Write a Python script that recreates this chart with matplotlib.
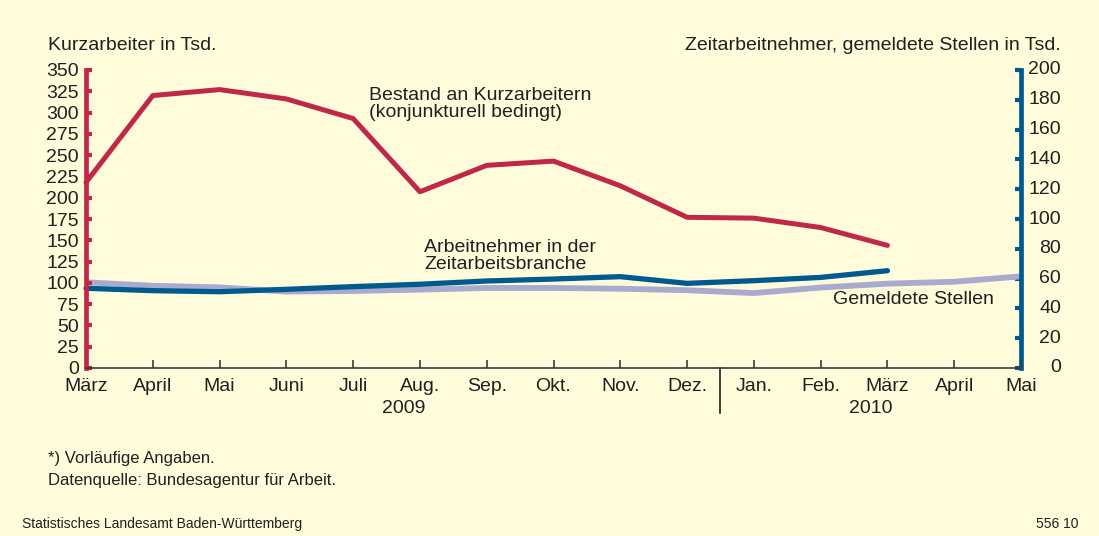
import matplotlib
matplotlib.use("Agg")
import matplotlib.pyplot as plt
from matplotlib.transforms import blended_transform_factory

plt.rcParams['font.family'] = ['Liberation Sans', 'DejaVu Sans']

months = ["März", "April", "Mai", "Juni", "Juli", "Aug.", "Sep.", "Okt.", "Nov.",
          "Dez.", "Jan.", "Feb.", "März", "April", "Mai"]
years = ["2009", "2010"]

kurzarbeiter = [218, 320, 327, 316, 293, 207, 238, 243, 214, 177, 176, 165, 144]
zeitarbeit = [53.5, 51.9, 51.2, 52.8, 54.6, 56.2, 58.4, 59.7, 61.3, 56.8, 58.6, 60.8, 65.3]
gemeldete = [57.5, 55.2, 54.1, 51.3, 51.7, 52.6, 53.7, 53.7, 53.2, 52.2, 50.3, 54.0, 56.6, 57.9, 61.5]

left_ticks = list(range(0, 351, 25))
right_ticks = list(range(0, 201, 20))

BG = "#FFFCDC"
RED = "#C0284A"
BLUE = "#005A8F"
GRAY = "#A9ABCE"
TXT = "#231F20"
FS = 14

fig = plt.figure(figsize=(10.99, 5.36), dpi=100, facecolor=BG)
ax = fig.add_axes([86/1099, 168/536, (1021-86)/1099, 298/536])
ax2 = ax.twinx()

x_all = list(range(len(months)))
ax2.plot(x_all[:len(gemeldete)], gemeldete, color=GRAY, lw=4.2, solid_capstyle='butt', clip_on=False, zorder=2)
ax2.plot(x_all[:len(zeitarbeit)], zeitarbeit, color=BLUE, lw=3.8, solid_capstyle='round', clip_on=False, zorder=3)
ax.plot(x_all[:len(kurzarbeiter)], kurzarbeiter, color=RED, lw=3.6, solid_capstyle='round', clip_on=False, zorder=3)
ax.set_zorder(2)
ax2.set_zorder(1)
ax.patch.set_visible(False)
ax2.patch.set_facecolor(BG)

ax.set_xlim(0, len(months) - 1)
ax.set_ylim(0, 350)
ax2.set_ylim(0, 200)

for a in (ax, ax2):
    a.spines['top'].set_visible(False)

ax.spines['left'].set_color(RED)
ax.spines['left'].set_linewidth(3.4)
ax.spines['right'].set_visible(False)
ax2.spines['left'].set_visible(False)
ax2.spines['bottom'].set_visible(False)
ax2.spines['right'].set_color(BLUE)
ax2.spines['right'].set_linewidth(3.4)
ax.spines['bottom'].set_color("#3A3A3A")
ax.spines['bottom'].set_linewidth(1.2)

ax.set_yticks(left_ticks)
ax.set_yticklabels([str(v) for v in left_ticks], fontsize=FS, color=TXT)
ax.tick_params(axis='y', direction='in', length=4, width=3, color=RED, pad=5)

ax2.set_yticks(right_ticks)
ax2.set_yticklabels([])
ax2.tick_params(axis='y', direction='in', length=4, width=3, color=BLUE)
rt = blended_transform_factory(fig.transFigure, ax2.transData)
for v in right_ticks:
    ax2.text(1061/1099, v, str(v), transform=rt, ha='right', va='center', fontsize=FS, color=TXT)

ax.set_xticks(x_all)
ax.set_xticklabels(months, fontsize=FS, color=TXT)
ax.tick_params(axis='x', direction='in', length=6, width=1.2, color="#3A3A3A", pad=7)

# separator between years
ax.plot([9.5, 9.5], [0, -53], color=TXT, lw=1.2, clip_on=False)
ax.text(4.75, -47, years[0], ha='center', va='center', fontsize=FS, color=TXT)
ax.text(11.75, -47, years[1], ha='center', va='center', fontsize=FS, color=TXT)

fig.text(48/1099, 1 - 46/536, "Kurzarbeiter in Tsd.", ha='left', va='center', fontsize=FS, color=TXT)
fig.text(1061/1099, 1 - 46/536, "Zeitarbeitnehmer, gemeldete Stellen in Tsd.", ha='right', va='center', fontsize=FS, color=TXT)

fig.text(369/1099, 1 - 104/536, "Bestand an Kurzarbeitern\n(konjunkturell bedingt)", ha='left', va='center',
         fontsize=FS, color=TXT, linespacing=0.95)
fig.text(424/1099, 1 - 256/536, "Arbeitnehmer in der\nZeitarbeitsbranche", ha='left', va='center',
         fontsize=FS, color=TXT, linespacing=0.95)
fig.text(833/1099, 1 - 300/536, "Gemeldete Stellen", ha='left', va='center', fontsize=FS, color=TXT)

fig.text(48/1099, 1 - 458/536, "*) Vorläufige Angaben.", ha='left', va='center', fontsize=12, color=TXT)
fig.text(48/1099, 1 - 481/536, "Datenquelle: Bundesagentur für Arbeit.", ha='left', va='center', fontsize=12, color=TXT)
fig.text(22/1099, 1 - 524/536, "Statistisches Landesamt Baden-Württemberg", ha='left', va='center', fontsize=10, color=TXT)
fig.text(1078/1099, 1 - 524/536, "556 10", ha='right', va='center', fontsize=10, color=TXT)

fig.savefig("out.png", dpi=100, facecolor=BG)
